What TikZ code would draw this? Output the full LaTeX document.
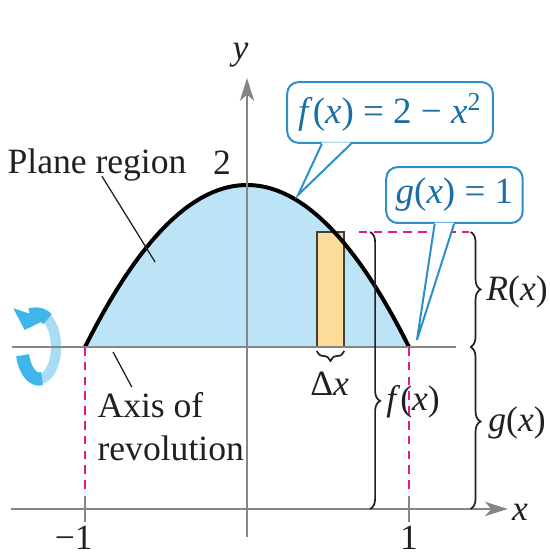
\documentclass[tikz,border=0pt]{standalone}
\usepackage{fontspec}
\setmainfont{Liberation Serif}
\usepackage{xcolor}
\definecolor{region}{HTML}{BDE3F7}
\definecolor{slab}{HTML}{FDDB98}
\definecolor{guide}{HTML}{E6198C}
\definecolor{callblue}{HTML}{2A8FCB}
\definecolor{calltext}{HTML}{1A6EA8}
\definecolor{ringdark}{HTML}{3FB6EA}
\definecolor{ringlight}{HTML}{A9DBF3}
\definecolor{axisgray}{HTML}{858585}
\definecolor{ink}{HTML}{231F20}
\usetikzlibrary{arrows.meta,decorations.pathreplacing,positioning}
\tikzset{
  axis/.style   = {draw=axisgray, line width=0.8pt},
  axarr/.style  = {axis, -{Stealth[length=8pt, width=5pt, inset=2.2pt]}},
  guideline/.style = {draw=guide, line width=0.8pt, dash pattern=on 3pt off 2.2pt},
  curve/.style  = {draw=black, line width=1.4pt},
  slabbox/.style = {fill=slab, draw=black!75, line width=0.6pt},
  brc/.style    = {decorate, draw=ink, line width=0.6pt},
  lbl/.style    = {font=\fontsize{12.5}{15.1}\selectfont, text=ink, inner sep=0pt},
  leader/.style = {draw=ink, line width=0.45pt},
  callbox/.style = {rectangle, rounded corners=4pt, draw=callblue,
                    line width=0.7pt, fill=white, text=calltext,
                    font=\fontsize{13}{15}\selectfont},
  callline/.style = {draw=callblue, line width=0.7pt, line join=miter}
}

\begin{document}
\begin{tikzpicture}[x=2cm, y=2cm]
  \useasboundingbox (-1.525,-0.278) rectangle (1.870,3.142);

  \fill[region] plot[domain=-1:1, samples=60] (\x,{2-\x*\x}) -- cycle;
  \draw[slabbox] (0.43,1) rectangle (0.6,1.71);
  \draw[curve] plot[domain=-1:1, samples=60] (\x,{2-\x*\x});

  \coordinate (ring) at (-1.284,1.0);
  \draw[ringlight, line width=3.6pt] (ring) ++(-90:0.105 and 0.198)
    arc[start angle=-90, end angle=90, x radius=0.105, y radius=0.198];
  \draw[ringdark, line width=4.6pt] (ring) ++(195:0.105 and 0.198)
    arc[start angle=195, end angle=280, x radius=0.105, y radius=0.198];
  \draw[ringdark, line width=4.6pt, -{Triangle[length=6pt, width=12pt]}]
    (ring) ++(60:0.105 and 0.198)
    arc[start angle=60, end angle=148, x radius=0.105, y radius=0.198];

  \draw[axis] (-1.45,1) -- (1.29,1);
  \draw[axarr] (-1.46,0) -- (1.61,0);
  \draw[axarr] (0,-0.17) -- (0,2.66);
  \foreach \t in {-1,1}
    \draw[axis] (\t,-0.08) -- (\t,0.08);

  \foreach \t in {-1,1}
    \draw[guideline] (\t,1) -- (\t,0.1);
  \draw[guideline] (0.69,1.71) -- (1.37,1.71);

  \node[lbl] (ylbl) at (-0.04,2.80) {\textit{y}};
  \node[lbl] (xlbl) at (1.685,-0.02) {\textit{x}};
  \node[lbl, anchor=north] (mone) at (-1.07,-0.1) {−1};
  \node[lbl, anchor=north] (one) at (1.0,-0.1) {1};
  \node[lbl] (two) at (-0.154,2.136) {2};

  \draw[brc, decoration={brace, amplitude=3.5pt}] (0.6,0.975) -- (0.43,0.975);
  \draw[brc, decoration={brace, amplitude=3.5pt, aspect=0.61}] (0.76,1.71) -- (0.76,0);
  \draw[brc, decoration={brace, amplitude=3.5pt}] (1.38,1.71) -- (1.38,1.0);
  \draw[brc, decoration={brace, amplitude=3.5pt, aspect=0.46}] (1.38,1.0) -- (1.38,0);
  \node[lbl] (dx) at (0.51,0.77) {Δ\textit{x}};
  \node[lbl] (flbl) at (1.025,0.66) {\textit{f}(\textit{x})};
  \node[lbl] (rlbl) at (1.667,1.34) {\textit{R}(\textit{x})};
  \node[lbl] (glbl) at (1.667,0.53) {\textit{g}(\textit{x})};

  \node[lbl] (plbl) at (-0.926,2.123) {Plane region};
  \coordinate (ppt) at (-0.568,1.525);
  \draw[leader] ([xshift=0.6mm, yshift=0.7mm]plbl.south) -- (ppt);
  \node[lbl, align=left, anchor=north west] (axlbl) at (-0.926,0.722)
    {Axis of\\revolution};
  \coordinate (axpt) at (-0.827,0.969);
  \draw[leader] ([xshift=4.3mm, yshift=0.6mm]axlbl.north west) -- (axpt);

  \node[callbox, minimum width=2.54cm, minimum height=0.75cm] (fc) at (0.883,2.4475)
    {\textit{f}(\textit{x}) = 2 − \textit{x}\textsuperscript{2}};
  \node[callbox, minimum width=1.64cm, minimum height=0.69cm] (gc) at (1.2805,1.938)
    {\textit{g}(\textit{x}) = 1};
  \coordinate (ftip) at (0.315,1.938);
  \coordinate (gtip) at (1.049,1.043);
  \foreach \c/\p/\a/\b in {fc/ftip/4.4mm/8mm, gc/gtip/6.1mm/8.5mm} {
    \fill[white] ([xshift=\a, yshift=0.5pt]\c.south west) -- (\p)
      -- ([xshift=\b, yshift=0.5pt]\c.south west) -- cycle;
    \draw[callline] ([xshift=\a]\c.south west) -- (\p) -- ([xshift=\b]\c.south west);
  }
\end{tikzpicture}
\end{document}
